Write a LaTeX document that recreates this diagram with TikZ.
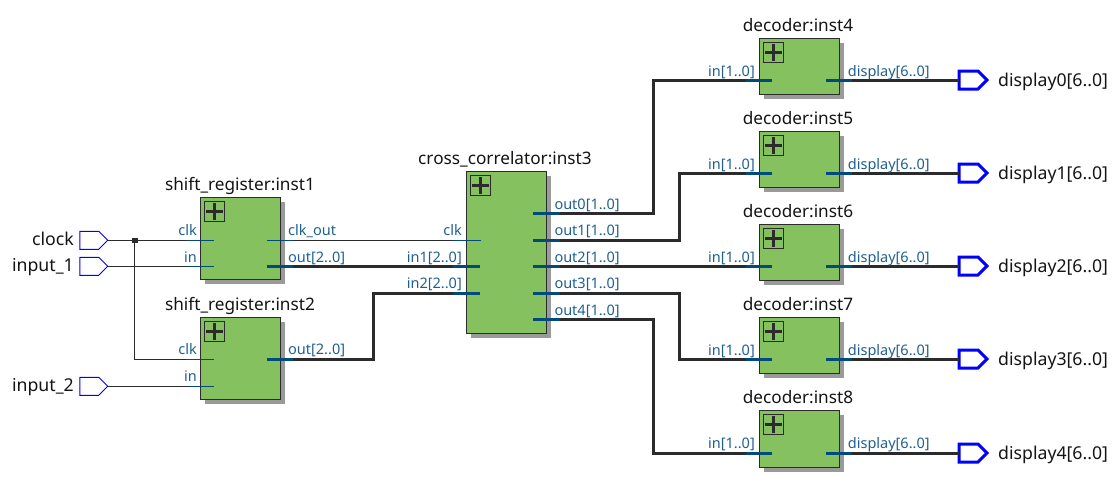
\documentclass[tikz,border=0pt]{standalone}
\usepackage{fontspec}
\setmainfont{Noto Sans}
\usetikzlibrary{shapes.symbols,shadows}
\definecolor{ink}{HTML}{2B2B2B}
\definecolor{title}{HTML}{141414}
\definecolor{portc}{HTML}{1F5F8F}
\definecolor{stubc}{HTML}{004A7C}
\definecolor{pinc}{HTML}{0000FF}
\definecolor{modc}{HTML}{85C15F}
\definecolor{shade}{HTML}{9A9A9A}
\tikzset{
  module/.style={draw=ink,line width=.9pt,fill=modc,inner sep=0pt,outer sep=0pt,
    drop shadow={shadow xshift=4.5pt,shadow yshift=-4.5pt,fill=shade,opacity=1}},
  shiftm/.style={module,minimum width=80pt,minimum height=82pt},
  crossm/.style={module,minimum width=80pt,minimum height=162pt},
  decm/.style={module,minimum width=80pt,minimum height=56.5pt},
  plusbox/.style={draw=ink,line width=.9pt,minimum size=20pt,inner sep=0pt,
    path picture={\draw[ink,line width=3pt] ([xshift=-8.5pt]path picture bounding box.center) -- ([xshift=8.5pt]path picture bounding box.center);
      \draw[ink,line width=3pt] ([yshift=-8.5pt]path picture bounding box.center) -- ([yshift=8.5pt]path picture bounding box.center);}},
  titlet/.style={font=\fontsize{17.2}{20}\selectfont,text=title,inner sep=0pt,anchor=base},
  pint/.style={font=\fontsize{17.7}{20}\selectfont,text=title,inner sep=0pt},
  portl/.style={font=\fontsize{14.5}{17}\selectfont,text=portc,inner sep=0pt,anchor=base east},
  portr/.style={font=\fontsize{14.5}{17}\selectfont,text=portc,inner sep=0pt,anchor=base west},
  inpin/.style={signal,signal to=east,signal from=nowhere,draw=pinc,line width=.9pt,fill=white,
    minimum width=28pt,minimum height=18pt,inner sep=0pt,outer sep=0pt},
  outpin/.style={inpin,line width=3pt},
  wire/.style={draw=ink,line width=1.1pt},
  bus/.style={draw=ink,line width=3pt},
  stub/.style={draw=stubc,line width=1.1pt},
  busstub/.style={draw=stubc,line width=3pt},
  dot/.style={draw=ink,fill=ink,minimum size=4.5pt,inner sep=0pt},
}
\begin{document}
\begin{tikzpicture}[x=1pt,y=-1pt]
  \useasboundingbox (0,0) rectangle (1120,490);
  % modules
  \node[shiftm] (inst1) at (240.5,238.3) {};
  \node[shiftm] (inst2) at (240.5,358.3) {};
  \node[crossm] (inst3) at (506.5,252.3) {};
  \node[decm] (inst4) at (799.5,66.5) {};
  \node[decm] (inst5) at (799.5,159.5) {};
  \node[decm] (inst6) at (799.5,252.5) {};
  \node[decm] (inst7) at (799.5,345.5) {};
  \node[decm] (inst8) at (799.5,439) {};
  % plus icons
  \node[plusbox] (plus1) at ([shift={(14,14)}]inst1.north west) {};
  \node[plusbox] (plus2) at ([shift={(14,14)}]inst2.north west) {};
  \node[plusbox] (plus3) at ([shift={(14,14)}]inst3.north west) {};
  \node[plusbox] (plus4) at ([shift={(14,14)}]inst4.north west) {};
  \node[plusbox] (plus5) at ([shift={(14,14)}]inst5.north west) {};
  \node[plusbox] (plus6) at ([shift={(14,14)}]inst6.north west) {};
  \node[plusbox] (plus7) at ([shift={(14,14)}]inst7.north west) {};
  \node[plusbox] (plus8) at ([shift={(14,14)}]inst8.north west) {};
  % titles
  \node[titlet] (t1) at (240,190.6) {shift\_register:inst1};
  \node[titlet] (t2) at (240,310.6) {shift\_register:inst2};
  \node[titlet] (t3) at (505,164.3) {cross\_correlator:inst3};
  \node[titlet] (t4) at (798,31.7) {decoder:inst4};
  \node[titlet] (t5) at (798,124.7) {decoder:inst5};
  \node[titlet] (t6) at (798,217.7) {decoder:inst6};
  \node[titlet] (t7) at (798,310.7) {decoder:inst7};
  \node[titlet] (t8) at (798,403.7) {decoder:inst8};
  % pins
  \node[inpin] (clock) at (89.3,240.3) {};
  \node[inpin] (input1) at (89.3,266.3) {};
  \node[inpin] (input2) at (89.3,386.3) {};
  \node[outpin] (disp0) at (968.5,80) {};
  \node[outpin] (disp1) at (968.5,173) {};
  \node[outpin] (disp2) at (968.5,266) {};
  \node[outpin] (disp3) at (968.5,359) {};
  \node[outpin] (disp4) at (968.5,453) {};
  \node[pint,anchor=base east] (nclock) at (74,245) {clock};
  \node[pint,anchor=base east] (ninput1) at (74,271.5) {input\_1};
  \node[pint,anchor=base east] (ninput2) at (74,391.5) {input\_2};
  \node[pint,anchor=base west] (ndisp0) at (998,86.5) {display0[6..0]};
  \node[pint,anchor=base west] (ndisp1) at (998,179.5) {display1[6..0]};
  \node[pint,anchor=base west] (ndisp2) at (998,272.5) {display2[6..0]};
  \node[pint,anchor=base west] (ndisp3) at (998,365.5) {display3[6..0]};
  \node[pint,anchor=base west] (ndisp4) at (998,459.5) {display4[6..0]};
  % port ends
  \coordinate (a1clk) at (214,240.3);
  \coordinate (a1in) at (214,266.3);
  \coordinate (a1cko) at (267,240.3);
  \coordinate (a1out) at (267,266.3);
  \coordinate (a2clk) at (214,359.3);
  \coordinate (a2in) at (214,386.3);
  \coordinate (a2out) at (267,359.3);
  \coordinate (c3clk) at (481,240.3);
  \coordinate (c3in1) at (480,266.3);
  \coordinate (c3in2) at (480,293);
  \coordinate (c3out0) at (533,213.3);
  \coordinate (c3out1) at (533,240.3);
  \coordinate (c3out2) at (533,266.3);
  \coordinate (c3out3) at (533,293);
  \coordinate (c3out4) at (533,319.3);
  \coordinate (d4in) at (772,80);
  \coordinate (d5in) at (772,173);
  \coordinate (d6in) at (772,266.3);
  \coordinate (d7in) at (772,359);
  \coordinate (d8in) at (772,453);
  \coordinate (d4out) at (826,80);
  \coordinate (d5out) at (826,173);
  \coordinate (d6out) at (826,266);
  \coordinate (d7out) at (826,359);
  \coordinate (d8out) at (826,453);
  % wires
  \draw[wire] (clock.east) -- (a1clk);
  \draw[wire] (input1.east) -- (a1in);
  \draw[wire] (input2.east) -- (a2in);
  \node[dot] (jn) at (134.5,240.3) {};
  \draw[wire] (jn.center) |- (a2clk);
  \draw[wire] (a1cko) -- (c3clk);
  \draw[bus] (a1out) -- (c3in1);
  \draw[bus] (a2out) -- (373.5,359.3) |- (c3in2);
  \draw[bus] (c3out0) -- (653.5,213.3) |- (d4in);
  \draw[bus] (c3out1) -- (679.5,240.3) |- (d5in);
  \draw[bus] (c3out2) -- (d6in);
  \draw[bus] (c3out3) -- (679.5,293) |- (d7in);
  \draw[bus] (c3out4) -- (653.5,319.3) |- (d8in);
  \draw[bus] (d4out) -- (disp0.west);
  \draw[bus] (d5out) -- (disp1.west);
  \draw[bus] (d6out) -- (disp2.west);
  \draw[bus] (d7out) -- (disp3.west);
  \draw[bus] (d8out) -- (disp4.west);
  % stubs
  \draw[stub] (a1clk) -- ++(-27,0);
  \draw[stub] (a1in) -- ++(-27,0);
  \draw[stub] (a2clk) -- ++(-27,0);
  \draw[stub] (a2in) -- ++(-27,0);
  \draw[stub] (a1cko) -- ++(26,0);
  \draw[busstub] (a1out) -- ++(26,0);
  \draw[busstub] (a2out) -- ++(26,0);
  \draw[stub] (c3clk) -- ++(-28,0);
  \draw[busstub] (c3in1) -- ++(-27,0);
  \draw[busstub] (c3in2) -- ++(-27,0);
  \draw[busstub] (c3out0) -- ++(27,0);
  \draw[busstub] (c3out1) -- ++(27,0);
  \draw[busstub] (c3out2) -- ++(27,0);
  \draw[busstub] (c3out3) -- ++(27,0);
  \draw[busstub] (c3out4) -- ++(27,0);
  \draw[busstub] (d4in) -- ++(-26,0);
  \draw[busstub] (d5in) -- ++(-26,0);
  \draw[busstub] (d6in) -- ++(-26,0);
  \draw[busstub] (d7in) -- ++(-26,0);
  \draw[busstub] (d8in) -- ++(-26,0);
  \draw[busstub] (d4out) -- ++(26,0);
  \draw[busstub] (d5out) -- ++(26,0);
  \draw[busstub] (d6out) -- ++(26,0);
  \draw[busstub] (d7out) -- ++(26,0);
  \draw[busstub] (d8out) -- ++(26,0);
  % port labels
  \node[portl] (l1a) at (197,235.8) {clk};
  \node[portl] (l1b) at (197,262.3) {in};
  \node[portr] (l1c) at (288,235.8) {clk\_out};
  \node[portr] (l1d) at (288,262.3) {out[2..0]};
  \node[portl] (l2a) at (197,354.8) {clk};
  \node[portl] (l2b) at (197,381.8) {in};
  \node[portr] (l2c) at (288,354.8) {out[2..0]};
  \node[portl] (l3a) at (462,235.8) {clk};
  \node[portl] (l3b) at (462,262.3) {in1[2..0]};
  \node[portl] (l3c) at (462,288.8) {in2[2..0]};
  \node[portr] (l3d) at (554.3,209.3) {out0[1..0]};
  \node[portr] (l3e) at (554.3,235.8) {out1[1..0]};
  \node[portr] (l3f) at (554.3,262.3) {out2[1..0]};
  \node[portr] (l3g) at (554.3,288.8) {out3[1..0]};
  \node[portr] (l3h) at (554.3,315.3) {out4[1..0]};
  \node[portl] (l4a) at (755,76) {in[1..0]};
  \node[portr] (l4b) at (847.7,76) {display[6..0]};
  \node[portl] (l5a) at (755,169) {in[1..0]};
  \node[portr] (l5b) at (847.7,169) {display[6..0]};
  \node[portl] (l6a) at (755,262) {in[1..0]};
  \node[portr] (l6b) at (847.7,262) {display[6..0]};
  \node[portl] (l7a) at (755,355) {in[1..0]};
  \node[portr] (l7b) at (847.7,355) {display[6..0]};
  \node[portl] (l8a) at (755,448.5) {in[1..0]};
  \node[portr] (l8b) at (847.7,448.5) {display[6..0]};
\end{tikzpicture}
\end{document}
